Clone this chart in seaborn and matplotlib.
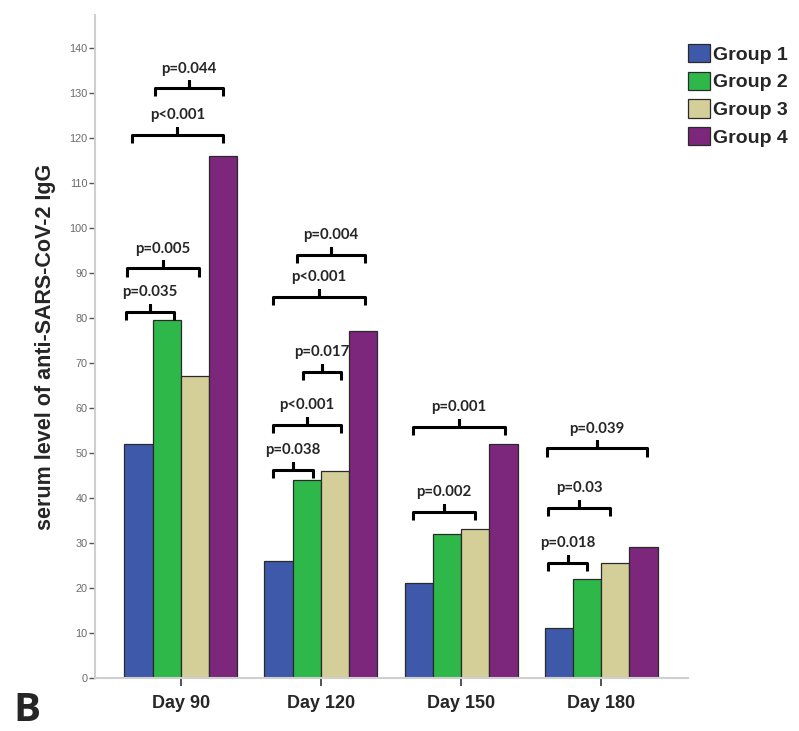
import matplotlib
matplotlib.use("Agg")
import matplotlib.pyplot as plt
import seaborn as sns
import pandas as pd

days = ["Day 90", "Day 120", "Day 150", "Day 180"]
groups = ["Group 1", "Group 2", "Group 3", "Group 4"]
group1 = [52, 26, 21, 11]
group2 = [79.5, 44, 32, 22]
group3 = [67, 46, 33, 25.5]
group4 = [116, 77, 52, 29]
colors = ["#3e58aa", "#2eb84a", "#d4ce98", "#7c267c"]

# significance brackets: day index, left / right offset from the day centre, height, text
br_day = [0, 0, 0, 0, 1, 1, 1, 1, 1, 2, 2, 3, 3, 3]
br_left = [-0.186, -0.35, -0.386, -0.393, -0.171, -0.343, -0.129, -0.343, -0.343,
           -0.343, -0.343, -0.386, -0.379, -0.379]
br_right = [0.30, 0.30, 0.129, -0.05, 0.314, 0.314, 0.143, 0.143, -0.057,
            0.314, 0.10, 0.329, 0.064, -0.10]
br_y = [131, 120.7, 91, 81.3, 94, 84.7, 68, 56.2, 46.2, 55.8, 36.9, 51, 37.8, 25.6]
br_text = ["p=0.044", "p<0.001", "p=0.005", "p=0.035",
           "p=0.004", "p<0.001", "p=0.017", "p<0.001", "p=0.038",
           "p=0.001", "p=0.002",
           "p=0.039", "p=0.03", "p=0.018"]

df = pd.DataFrame({
    "day": days * 4,
    "group": [g for g in groups for _ in days],
    "value": group1 + group2 + group3 + group4,
})

sns.set_style("white")
plt.rcParams["font.family"] = ["Liberation Sans", "DejaVu Sans"]

fig = plt.figure(figsize=(7.99, 7.31), dpi=100)
ax = fig.add_axes([95 / 799, 53 / 731, 593 / 799, 663 / 731])

sns.barplot(data=df, x="day", y="value", hue="group", palette=colors,
            width=0.807, gap=0, saturation=1, errorbar=None,
            edgecolor="#2a2a2a", linewidth=0.9, ax=ax)

ax.set_xlim(-0.614, 3.621)
ax.set_ylim(0, 147.3)
ax.set_yticks(range(0, 141, 10))
ax.set_xlabel("")
ax.set_ylabel("serum level of anti-SARS-CoV-2 IgG", fontsize=15.5, fontweight="bold")
ax.yaxis.set_label_coords(-0.066, 0.5)

for side in ["top", "right"]:
    ax.spines[side].set_visible(False)
for side in ["left", "bottom"]:
    ax.spines[side].set_color("#cfcfcf")
    ax.spines[side].set_linewidth(1.5)

ax.tick_params(axis="y", direction="out", length=4.5, width=1, color="#555555",
               labelsize=7.8, labelcolor="#6a6a6a", pad=1, left=True)
ax.tick_params(axis="x", direction="out", length=6, width=1.2, color="#333333",
               labelsize=13, pad=6.5, bottom=True)
for t in ax.get_xticklabels():
    t.set_fontweight("bold")

for d, l, r, y, txt in zip(br_day, br_left, br_right, br_y, br_text):
    x1, x2 = d + l, d + r
    xm = (x1 + x2) / 2
    ax.plot([x1, x1, xm, xm, xm, x2, x2], [y - 1.8, y, y, y + 1.6, y, y, y - 1.8],
            color="black", lw=2.2, solid_joinstyle="round", solid_capstyle="butt",
            clip_on=False, zorder=5)
    ax.text(xm, y + 4.4, txt, ha="center", va="center", fontsize=10.8,
            fontweight="bold", family=["Lato", "DejaVu Sans"], zorder=6)

sns.move_legend(ax, "upper left", bbox_to_anchor=(688 / 799, 1 - 44 / 731),
                bbox_transform=fig.transFigure, title=None, frameon=False,
                fontsize=14, handlelength=1.13, handleheight=1.08,
                handletextpad=0.15, labelspacing=0.4, borderpad=0, borderaxespad=0)
for t in ax.get_legend().get_texts():
    t.set_fontweight("bold")

fig.text(13 / 799, 0.001, "B", fontsize=29, fontweight="bold",
         family=["Open Sans", "DejaVu Sans"], va="bottom", ha="left")

fig.savefig("out.png", dpi=100)
